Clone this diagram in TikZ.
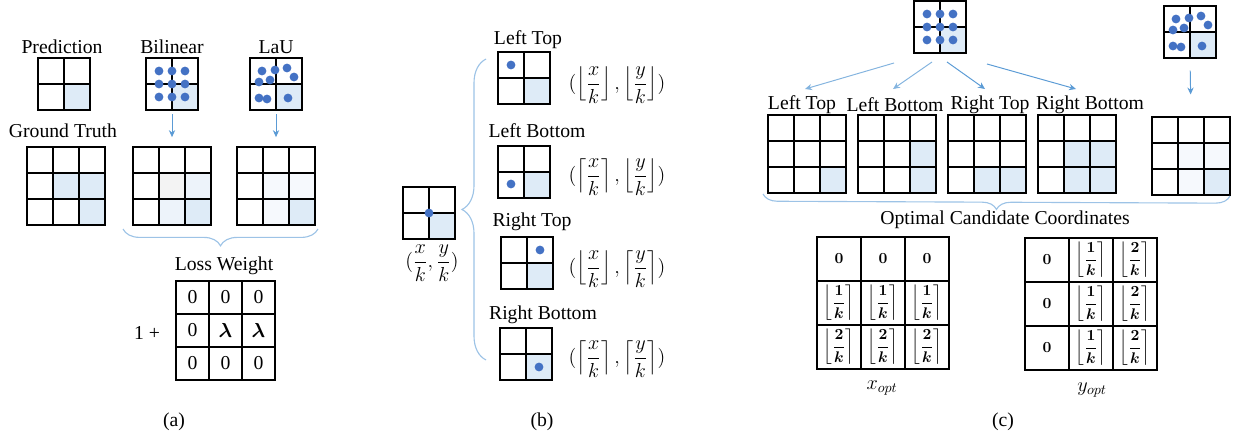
\documentclass[tikz,border=0pt]{standalone}
\usepackage{amsmath,amssymb,amsbsy}
\usepackage{fontspec}
\setmainfont{Liberation Serif}
\usepackage{tikz}
\usetikzlibrary{arrows.meta,positioning,calc,backgrounds,decorations.pathreplacing}
\definecolor{cellblue}{HTML}{DEEBF7}
\definecolor{dotblue}{HTML}{4472C4}
\definecolor{arrowblue}{HTML}{5B9BD5}
\definecolor{bracecol}{HTML}{9DC3E6}
\definecolor{faintgray}{HTML}{F3F3F3}
\definecolor{faintblue}{HTML}{EDF3FA}
\definecolor{paleblue}{HTML}{F6F9FD}
\newcommand{\pxu}{0.025cm}
\newcommand{\flk}[1]{\left\lfloor\dfrac{#1}{k}\right\rfloor}
\newcommand{\clk}[1]{\left\lceil\dfrac{#1}{k}\right\rceil}
\newcommand{\roundk}[1]{\boldsymbol{\left\lfloor\dfrac{#1}{k}\right\rceil}}
% n x n cell grid: name, left x, top y, cells per side, cell size (px)
\newcommand{\cellgrid}[5]{%
  \node[gridframe,minimum size=#4*#5*\pxu,anchor=north west] (#1) at (#2,#3) {};
  \foreach \k in {1,...,#4}{
    \draw[gridline] ($(#1.north west)+(\k*#5,0)$) -- ++(0,#4*#5);
    \draw[gridline] ($(#1.north west)+(0,\k*#5)$) -- ++(#4*#5,0);
  }%
}
% tint one cell: grid, row, col, cell size, colour
\newcommand{\tintcell}[5]{%
  \fill[#5] ($(#1.north west)+({(#3-1)*#4},{(#2-1)*#4})$) rectangle ++(#4,#4);%
}
\tikzset{
  txt/.style={font=\fontsize{14}{16}\selectfont,inner sep=0pt},
  fml/.style={font=\fontsize{13.5}{15}\selectfont,inner sep=0pt},
  gridframe/.style={draw=black,line width=0.9pt,inner sep=0pt,outer sep=0pt},
  gridline/.style={black,line width=0.9pt},
  celltxt/.style={font=\fontsize{14}{16}\selectfont,inner sep=0pt},
  opttxt/.style={font=\fontsize{10.5}{12}\selectfont,inner sep=0pt},
  dotfill/.style={fill=dotblue},
  flowarrow/.style={-{Stealth[length=5pt,width=4.5pt]},arrowblue,line width=0.7pt},
  curly/.style={decorate,decoration={brace,amplitude=#1},bracecol,line width=0.8pt},
}

\begin{document}
\begin{tikzpicture}[x=\pxu,y=-\pxu]
  \useasboundingbox (0,0) rectangle (1233,440);

  % (a)
  \node[txt] (tPred) at (62,47) {Prediction};
  \node[txt] (tBil) at (172,47) {Bilinear};
  \node[txt] (tLaU) at (276,47) {LaU};
  \cellgrid{pPred}{38}{58}{2}{26}
  \cellgrid{pBil}{146}{58}{2}{26}
  \cellgrid{pLaU}{250}{58}{2}{26}
  \node[txt] (tGT) at (63,131) {Ground Truth};
  \cellgrid{gGT}{27}{147}{3}{26}
  \cellgrid{uBil}{133}{147}{3}{26}
  \cellgrid{uLaU}{237}{147}{3}{26}
  \begin{scope}[on background layer]
    \tintcell{pPred}{2}{2}{26}{cellblue}
    \tintcell{pBil}{2}{2}{26}{cellblue}
    \tintcell{pLaU}{2}{2}{26}{cellblue}
    \tintcell{gGT}{2}{2}{26}{cellblue}
    \tintcell{gGT}{2}{3}{26}{cellblue}
    \tintcell{gGT}{3}{3}{26}{cellblue}
    \tintcell{uBil}{2}{2}{26}{faintgray}
    \tintcell{uBil}{2}{3}{26}{faintblue}
    \tintcell{uBil}{3}{2}{26}{faintblue}
    \tintcell{uBil}{3}{3}{26}{cellblue}
    \tintcell{uLaU}{2}{2}{26}{paleblue}
    \tintcell{uLaU}{2}{3}{26}{paleblue}
    \tintcell{uLaU}{3}{2}{26}{paleblue}
    \tintcell{uLaU}{3}{3}{26}{cellblue}
  \end{scope}
  \foreach \dx in {13,26,39}{
    \foreach \dy in {13,26,39}{
      \fill[dotfill] ($(pBil.north west)+(\dx,\dy)$) circle[radius=0.11cm];
    }
  }
  \foreach \dx/\dy in {12/13,25/12,37/10,44/19,9/24,20/22,9/40,17/41,38/40}{
    \fill[dotfill] ($(pLaU.north west)+(\dx,\dy)$) circle[radius=0.11cm];
  }
  \draw[flowarrow,shorten <=3pt,shorten >=7pt] (pBil.south) -- (uBil.north);
  \draw[flowarrow,shorten <=3pt,shorten >=7pt] (pLaU.south) -- (uLaU.north);
  \draw[curly=0.42cm] ($(uLaU.south east)+(3,4)$) -- ($(uBil.south west)+(-10,4)$);
  \node[txt] (tLW) at (224,266) {Loss Weight};
  \cellgrid{lossW}{176}{281}{3}{33}
  \foreach \r/\c/\v in {1/1/0,1/2/0,1/3/0,2/1/0,2/2/{$\boldsymbol{\lambda}$},
                        2/3/{$\boldsymbol{\lambda}$},3/1/0,3/2/0,3/3/0}{
    \node[celltxt] (lw\r\c) at ($(lossW.north west)+(\c*33-16.5,\r*33-16.5)$) {\v};
  }
  \node[txt] (tOne) at (147,333) {1 +};
  \node[txt] (capA) at (174,422) {(a)};

  % (b)
  \cellgrid{bSrc}{403}{187}{2}{26}
  \node[txt] (bSrcLbl) at (432,263) {$(\dfrac{x}{k},\dfrac{y}{k})$};
  \node[txt] (tbLT) at (528,40) {Left Top};
  \cellgrid{bLT}{498}{52}{2}{26}
  \node[fml] (fLT) at (617,85) {$(\flk{x},\flk{y})$};
  \node[txt] (tbLB) at (537,131) {Left Bottom};
  \cellgrid{bLB}{498}{146}{2}{26}
  \node[fml] (fLB) at (617,177) {$(\clk{x},\flk{y})$};
  \node[txt] (tbRT) at (532,222) {Right Top};
  \cellgrid{bRT}{501}{237}{2}{26}
  \node[fml] (fRT) at (617,269) {$(\flk{x},\clk{y})$};
  \node[txt] (tbRB) at (543,315) {Right Bottom};
  \cellgrid{bRB}{500}{328}{2}{26}
  \node[fml] (fRB) at (617,359) {$(\clk{x},\clk{y})$};
  \begin{scope}[on background layer]
    \foreach \g in {bSrc,bLT,bLB,bRT,bRB}{
      \tintcell{\g}{2}{2}{26}{cellblue}
    }
  \end{scope}
  \fill[dotfill] ($(bSrc.north west)+(26,26)$) circle[radius=0.11cm];
  \fill[dotfill] ($(bLT.north west)+(13,13)$) circle[radius=0.11cm];
  \fill[dotfill] ($(bLB.north west)+(13,38)$) circle[radius=0.11cm];
  \fill[dotfill] ($(bRT.north west)+(39,13)$) circle[radius=0.11cm];
  \fill[dotfill] ($(bRB.north west)+(39,39)$) circle[radius=0.11cm];
  \draw[curly=0.6cm] ($(bRB.south west)+(-14,-20)$) -- ($(bLT.north west)+(-12,7)$);
  \node[txt] (capB) at (542,422) {(b)};

  % (c)
  \cellgrid{cBil}{914}{1}{2}{26}
  \cellgrid{cLaU}{1164}{6}{2}{26}
  \node[txt] (tcLT) at (802,105) {Left Top};
  \node[txt] (tcLB) at (895,105) {Left Bottom};
  \node[txt] (tcRT) at (990,105) {Right Top};
  \node[txt] (tcRB) at (1090,105) {Right Bottom};
  \cellgrid{cLT}{768}{115}{3}{26}
  \cellgrid{cLB}{858}{115}{3}{26}
  \cellgrid{cRT}{948}{115}{3}{26}
  \cellgrid{cRB}{1038}{115}{3}{26}
  \cellgrid{cOut}{1152}{117}{3}{26}
  \begin{scope}[on background layer]
    \tintcell{cBil}{2}{2}{26}{cellblue}
    \tintcell{cLaU}{2}{2}{26}{cellblue}
    \tintcell{cLT}{3}{3}{26}{cellblue}
    \tintcell{cLB}{2}{3}{26}{cellblue}
    \tintcell{cLB}{3}{3}{26}{cellblue}
    \tintcell{cRT}{3}{2}{26}{cellblue}
    \tintcell{cRT}{3}{3}{26}{cellblue}
    \tintcell{cRB}{2}{2}{26}{cellblue}
    \tintcell{cRB}{2}{3}{26}{cellblue}
    \tintcell{cRB}{3}{2}{26}{cellblue}
    \tintcell{cRB}{3}{3}{26}{cellblue}
    \tintcell{cOut}{2}{2}{26}{paleblue}
    \tintcell{cOut}{2}{3}{26}{paleblue}
    \tintcell{cOut}{3}{2}{26}{paleblue}
    \tintcell{cOut}{3}{3}{26}{cellblue}
  \end{scope}
  \foreach \dx in {13,26,39}{
    \foreach \dy in {13,26,39}{
      \fill[dotfill] ($(cBil.north west)+(\dx,\dy)$) circle[radius=0.11cm];
    }
  }
  \foreach \dx/\dy in {12/13,25/12,37/10,44/19,9/24,20/22,9/40,17/41,38/40}{
    \fill[dotfill] ($(cLaU.north west)+(\dx,\dy)$) circle[radius=0.11cm];
  }
  \coordinate (fanS1) at (894,63);
  \coordinate (fanS2) at (932,62);
  \coordinate (fanS3) at (947,62);
  \coordinate (fanS4) at (987,64);
  \coordinate (fanE1) at (805,89);
  \coordinate (fanE2) at (893,89);
  \coordinate (fanE3) at (985,89);
  \coordinate (fanE4) at (1076,89);
  \draw[flowarrow,arrowblue!75] (fanS1) -- (fanE1);
  \draw[flowarrow,arrowblue!75] (fanS2) -- (fanE2);
  \draw[flowarrow] (fanS3) -- (fanE3);
  \draw[flowarrow] (fanS4) -- (fanE4);
  \draw[flowarrow,shorten <=9pt,shorten >=16pt] (cLaU.south) -- (cOut.north);
  \draw[curly=0.36cm] ($(cOut.south east)+(0,1)$) -- ($(cLT.south west)+(-5,1)$);
  \node[txt] (tOpt) at (1005,220) {Optimal Candidate Coordinates};
  \cellgrid{xOpt}{817}{237}{3}{44}
  \cellgrid{yOpt}{1025}{238}{3}{44}
  \foreach \r/\v in {1/{\boldsymbol{0}},2/{\roundk{1}},3/{\roundk{2}}}{
    \foreach \c in {1,2,3}{
      \node[opttxt] (xo\r\c) at ($(xOpt.north west)+(\c*44-22,\r*44-22)$) {$\v$};
    }
  }
  \foreach \c/\v in {1/{\boldsymbol{0}},2/{\roundk{1}},3/{\roundk{2}}}{
    \foreach \r in {1,2,3}{
      \node[opttxt] (yo\r\c) at ($(yOpt.north west)+(\c*44-22,\r*44-22)$) {$\v$};
    }
  }
  \node[txt] (lxOpt) at (882,388) {$x_{opt}$};
  \node[txt] (lyOpt) at (1092,390) {$y_{opt}$};
  \node[txt] (capC) at (1003,422) {(c)};
\end{tikzpicture}
\end{document}
